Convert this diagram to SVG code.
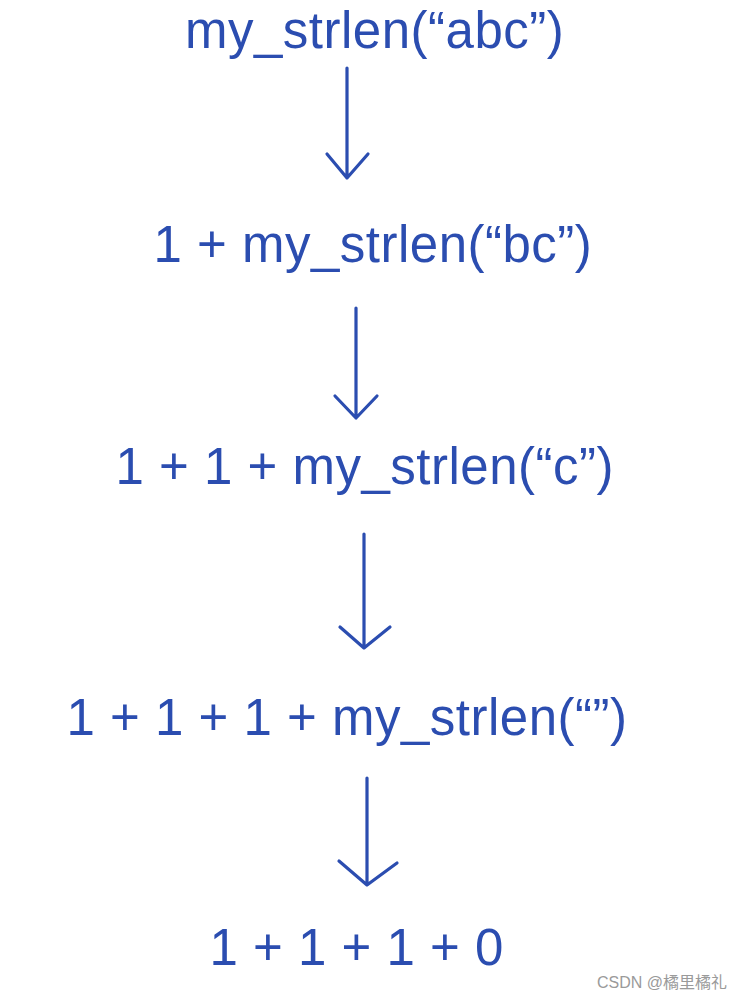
<svg xmlns="http://www.w3.org/2000/svg" width="740" height="1000" viewBox="0 0 740 1000">
  <style>
    .t { font-family: "Liberation Sans", Arial, Helvetica, sans-serif; font-size: 51px; letter-spacing: 0.5px; fill: #2b4db0; }
    .a { fill: none; stroke: #2b4db0; stroke-width: 3.2; stroke-linecap: round; stroke-linejoin: round; }
    .wm { font-family: "Liberation Sans", "Noto Sans CJK SC", sans-serif; font-size: 16px; fill: #9a9a9a; }
  </style>
  <rect x="0" y="0" width="740" height="1000" fill="#ffffff"/>
  <g id="step1"><text class="t" x="185" y="48">my_strlen(“abc”)</text></g>
  <g id="step2"><text class="t" x="153.5" y="262">1 + my_strlen(“bc”)</text></g>
  <g id="step3"><text class="t" x="115.5" y="484">1 + 1 + my_strlen(“c”)</text></g>
  <g id="step4"><text class="t" x="66.5" y="735">1 + 1 + 1 + my_strlen(“”)</text></g>
  <g id="step5"><text class="t" x="209.5" y="965">1 + 1 + 1 + 0</text></g>
  <g id="connectors">
    <path class="a" d="M347 68 V178 M327 154 L347 178 L368 154"/>
    <path class="a" d="M356 308 V418 M335 396 L356 418 L377 396"/>
    <path class="a" d="M364 534 V648 M340 627 L364 648 L390 627"/>
    <path class="a" d="M367 778 V885 M339 861 L367 885 L397 863"/>
  </g>
  <text class="wm" x="597" y="988">CSDN @橘里橘礼</text>
</svg>
